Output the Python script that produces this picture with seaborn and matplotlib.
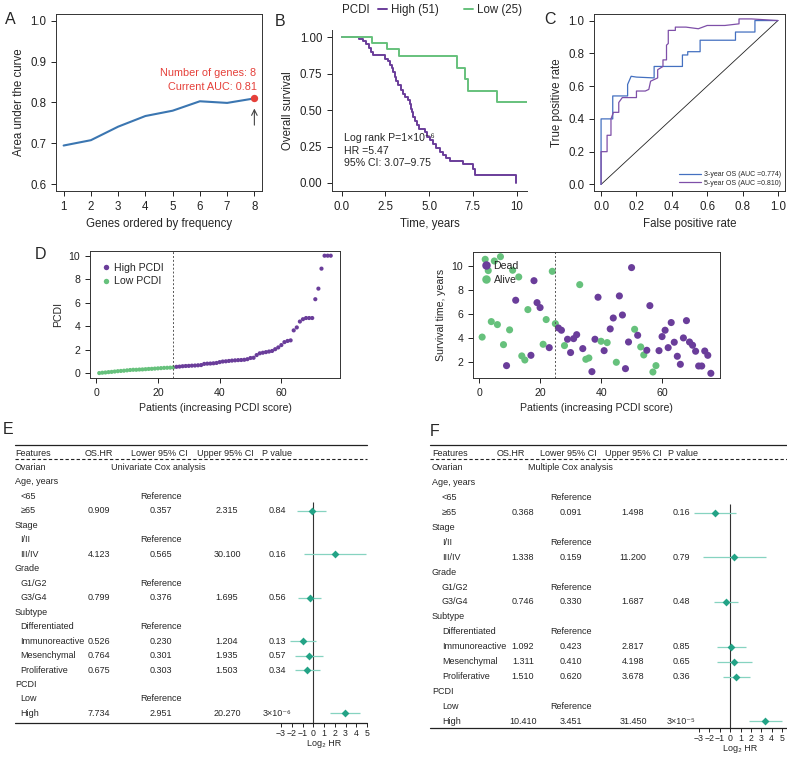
import numpy as np
import pandas as pd
import matplotlib
matplotlib.use("Agg")
import matplotlib.pyplot as plt
from matplotlib.lines import Line2D
import seaborn as sns

# ---------------- data ----------------
# A: AUC vs number of genes
genes_n = [1, 2, 3, 4, 5, 6, 7, 8]
auc_vals = [0.695, 0.708, 0.741, 0.767, 0.780, 0.803, 0.799, 0.810]

# B: Kaplan-Meier steps (time in years, survival after step)
high_t = [0, 0.99, 1.22, 1.37, 1.56, 1.70, 1.79, 2.46, 2.65, 2.78, 2.90, 2.93, 3.03,
          3.12, 3.22, 3.37, 3.50, 3.60, 3.79, 3.89, 3.94, 4.04, 4.11, 4.21, 4.30, 4.42,
          4.74, 4.88, 5.03, 5.22, 5.41, 5.60, 5.79, 5.98, 6.17, 6.93, 7.50, 7.60, 9.98]
high_s = [1.0, 0.99, 0.973, 0.952, 0.927, 0.90, 0.877, 0.854, 0.836, 0.81, 0.79, 0.76,
          0.73, 0.70, 0.67, 0.64, 0.61, 0.59, 0.57, 0.545, 0.51, 0.484, 0.454, 0.425,
          0.397, 0.37, 0.35, 0.317, 0.295, 0.265, 0.242, 0.215, 0.19, 0.17, 0.15, 0.128,
          0.096, 0.057, 0.0]
low_t = [0, 1.73, 2.59, 3.26, 6.61, 7.07, 7.22, 8.90, 10.6]
low_s = [1.0, 0.96, 0.92, 0.87, 0.79, 0.717, 0.63, 0.553, 0.553]
n_high, n_low = 51, 25

# C: ROC curves
roc3_fpr = [0, 0, 0.066, 0.066, 0.15, 0.15, 0.17, 0.20, 0.30, 0.30, 0.46, 0.46, 0.49,
            0.49, 0.56, 0.56, 0.76, 0.76, 0.87, 0.87, 1.0]
roc3_tpr = [0, 0.40, 0.40, 0.54, 0.54, 0.61, 0.66, 0.655, 0.65, 0.72, 0.72, 0.79, 0.79,
            0.81, 0.81, 0.88, 0.88, 0.93, 0.93, 1.0, 1.0]
roc5_fpr = [0, 0, 0.034, 0.034, 0.056, 0.056, 0.07, 0.10, 0.10, 0.12, 0.20, 0.20, 0.25,
            0.27, 0.28, 0.32, 0.32, 0.35, 0.35, 0.37, 0.37, 0.38, 0.38, 0.42, 0.42, 0.48,
            0.55, 0.60, 0.70, 0.78, 0.78, 0.85, 1.0]
roc5_tpr = [0, 0.20, 0.20, 0.30, 0.30, 0.40, 0.44, 0.44, 0.50, 0.53, 0.53, 0.57, 0.57,
            0.58, 0.63, 0.65, 0.70, 0.72, 0.76, 0.76, 0.85, 0.86, 0.94, 0.94, 0.96, 0.96,
            0.95, 0.97, 0.97, 0.98, 1.01, 1.01, 1.0]
auc_3y, auc_5y = 0.774, 0.810

# D: PCDI score per patient (sorted) and survival status
pcdi_low = [0.02, 0.05, 0.07, 0.10, 0.12, 0.15, 0.18, 0.20, 0.22, 0.25, 0.28, 0.30, 0.30,
            0.32, 0.33, 0.35, 0.37, 0.38, 0.40, 0.42, 0.44, 0.46, 0.47, 0.48, 0.50]
pcdi_high = [0.55, 0.57, 0.60, 0.62, 0.63, 0.65, 0.66, 0.68, 0.70, 0.80, 0.82, 0.83, 0.85,
             0.88, 0.95, 1.00, 1.02, 1.05, 1.08, 1.10, 1.12, 1.13, 1.15, 1.20, 1.30, 1.32,
             1.55, 1.70, 1.75, 1.80, 1.85, 1.90, 2.05, 2.20, 2.40, 2.65, 2.75, 2.80, 3.65,
             3.90, 4.40, 4.60, 4.70, 4.70, 4.70, 6.30, 7.20, 8.90, 10.0, 10.0, 10.0]
surv_years = [4.10, 10.58, 9.64, 5.39, 10.44, 5.14, 10.80, 3.47, 1.72, 4.70, 9.67, 7.17,
              9.11, 2.53, 2.19, 6.39, 2.58, 8.80, 6.97, 6.56, 3.50, 5.56, 3.22, 9.58, 5.22,
              4.86, 4.67, 3.39, 3.92, 2.81, 3.97, 4.30, 8.47, 3.14, 2.25, 2.36, 1.22, 3.92,
              7.42, 3.75, 2.97, 3.64, 4.78, 5.69, 2.00, 7.53, 5.94, 1.47, 3.69, 9.89, 4.75,
              4.25, 3.28, 2.61, 3.00, 6.72, 1.19, 1.72, 2.97, 4.14, 4.67, 3.22, 5.31, 3.67,
              2.50, 1.83, 4.03, 5.47, 3.69, 3.42, 2.92, 1.69, 1.69, 2.94, 2.58, 1.08]
status_code = "AAAAAAAADAADAAAADDDDAADAADDADDDDADAADDDADADDADDDDDADAADDAADDDDDDDDDDDDDDDDDD"

# E / F: Cox regression tables
feature_labels = ["Ovarian", "Age, years", "<65", "≥65", "Stage", "I/II", "III/IV", "Grade",
                  "G1/G2", "G3/G4", "Subtype", "Differentiated", "Immunoreactive",
                  "Mesenchymal", "Proliferative", "PCDI", "Low", "High"]
group_rows = ["Ovarian", "Age, years", "Stage", "Grade", "Subtype", "PCDI"]
ref_rows = ["<65", "I/II", "G1/G2", "Differentiated", "Low"]
est_rows = ["≥65", "III/IV", "G3/G4", "Immunoreactive", "Mesenchymal", "Proliferative", "High"]
uni_hr = [0.909, 4.123, 0.799, 0.526, 0.764, 0.675, 7.734]
uni_lower = [0.357, 0.565, 0.376, 0.230, 0.301, 0.303, 2.951]
uni_upper = [2.315, 30.100, 1.695, 1.204, 1.935, 1.503, 20.270]
uni_p = ["0.84", "0.16", "0.56", "0.13", "0.57", "0.34", "3×10⁻⁶"]
multi_hr = [0.368, 1.338, 0.746, 1.092, 1.311, 1.510, 10.410]
multi_lower = [0.091, 0.159, 0.330, 0.423, 0.410, 0.620, 3.451]
multi_upper = [1.498, 11.200, 1.687, 2.817, 4.198, 3.678, 31.450]
multi_p = ["0.16", "0.79", "0.48", "0.85", "0.65", "0.36", "3×10⁻⁵"]

# ---------------- style ----------------
PURPLE = "#6A3D9A"
GREEN = "#66C17C"
BLUE = "#3B76B1"
RED = "#E5403A"
ROC_BLUE = "#4470C0"
ROC_PURPLE = "#7E4FA8"
TEAL = "#23A386"
TEAL_LIGHT = "#86D3C0"

sns.set_style("ticks")
plt.rcParams["font.family"] = ["Liberation Sans", "DejaVu Sans"]
plt.rcParams.update({
    "axes.linewidth": 0.7,
    "axes.edgecolor": "#333333",
    "xtick.major.width": 0.7,
    "ytick.major.width": 0.7,
    "xtick.major.size": 3.5,
    "ytick.major.size": 3.5,
    "xtick.color": "#222222",
    "ytick.color": "#222222",
})

W, H = 787, 760
fig = plt.figure(figsize=(W / 100, H / 100), dpi=100)


def px_axes(x0, y0, x1, y1):
    return fig.add_axes([x0 / W, 1 - y1 / H, (x1 - x0) / W, (y1 - y0) / H])


FS = 8.3

# ---------------- A ----------------
ax = px_axes(56, 14, 262, 191)
sns.lineplot(x=genes_n, y=auc_vals, ax=ax, color=BLUE, lw=1.5)
sns.scatterplot(x=genes_n[-1:], y=auc_vals[-1:], ax=ax, color=RED, s=28, linewidth=0, zorder=3)
ax.text(8.08, 0.872, f"Number of genes: {genes_n[-1]}", color=RED, ha="right", va="center", fontsize=7.8)
ax.text(8.08, 0.838, f"Current AUC: {auc_vals[-1]:.2f}", color=RED, ha="right", va="center", fontsize=7.8)
ax.annotate("", xy=(8, 0.792), xytext=(8, 0.738),
            arrowprops=dict(arrowstyle="->", color="#444444", lw=0.8))
ax.set_xlim(0.72, 8.28)
ax.set_ylim(0.584, 1.016)
ax.set_xticks(genes_n)
ax.set_yticks([0.6, 0.7, 0.8, 0.9, 1.0])
ax.tick_params(labelsize=FS)
ax.set_xlabel("Genes ordered by frequency", fontsize=FS)
ax.set_ylabel("Area under the curve", fontsize=FS)

# ---------------- B ----------------
ax = px_axes(332, 30, 527, 191)
sns.lineplot(x=high_t, y=high_s, ax=ax, color=PURPLE, lw=1.4, estimator=None, sort=False,
             drawstyle="steps-post")
sns.lineplot(x=low_t, y=low_s, ax=ax, color=GREEN, lw=1.4, estimator=None, sort=False,
             drawstyle="steps-post")
ax.set_xlim(-0.55, 10.6)
ax.set_ylim(-0.055, 1.05)
ax.set_xticks([0, 2.5, 5, 7.5, 10])
ax.set_xticklabels(["0.0", "2.5", "5.0", "7.5", "10"])
ax.set_yticks([0, 0.25, 0.5, 0.75, 1.0])
ax.set_yticklabels(["0.00", "0.25", "0.50", "0.75", "1.00"])
sns.despine(ax=ax)
ax.tick_params(labelsize=FS)
ax.set_xlabel("Time, years", fontsize=FS)
ax.set_ylabel("Overall survival", fontsize=FS)
ax.text(0.15, 0.306, "Log rank P=1×10⁻⁶", fontsize=7.6, va="center")
ax.text(0.15, 0.222, "HR =5.47", fontsize=7.6, va="center")
ax.text(0.15, 0.14, "95% CI: 3.07–9.75", fontsize=7.6, va="center")
handles = [Line2D([], [], color=PURPLE, lw=1.4), Line2D([], [], color=GREEN, lw=1.4)]
ax.text(0.05, 1.124, "PCDI", transform=ax.transAxes, fontsize=FS, va="center")
ax.legend(handles, [f"High ({n_high})", f"Low ({n_low})"], ncol=2, loc="center left",
          bbox_to_anchor=(0.235, 1.124), frameon=False, fontsize=FS, handlelength=0.8,
          handletextpad=0.35, columnspacing=2.2, borderpad=0, borderaxespad=0)

# ---------------- C ----------------
ax = px_axes(594, 14, 785, 191)
ax.plot([0, 1], [0, 1], color="#222222", lw=0.6)
sns.lineplot(x=roc3_fpr, y=roc3_tpr, ax=ax, color=ROC_BLUE, lw=0.9, estimator=None, sort=False,
             label=f"3-year OS (AUC ={auc_3y:.3f})")
sns.lineplot(x=roc5_fpr, y=roc5_tpr, ax=ax, color=ROC_PURPLE, lw=0.9, estimator=None, sort=False,
             label=f"5-year OS (AUC ={auc_5y:.3f})")
ax.set_xlim(-0.04, 1.04)
ax.set_ylim(-0.04, 1.04)
ax.set_xticks(np.arange(0, 1.01, 0.2))
ax.set_yticks(np.arange(0, 1.01, 0.2))
ax.tick_params(labelsize=FS)
ax.set_xlabel("False positive rate", fontsize=FS)
ax.set_ylabel("True positive rate", fontsize=FS)
ax.legend(loc="lower right", frameon=False, fontsize=5, handlelength=3.2, handletextpad=0.4,
          borderaxespad=0.2, labelspacing=0.2)

# ---------------- D (left) ----------------
FSD = 7.6
patients = np.arange(1, len(pcdi_low) + len(pcdi_high) + 1)
df_d = pd.DataFrame({
    "patient": patients,
    "pcdi": pcdi_low + pcdi_high,
    "group": ["Low PCDI"] * len(pcdi_low) + ["High PCDI"] * len(pcdi_high),
})
ax = px_axes(90, 251, 340, 378)
sns.scatterplot(data=df_d, x="patient", y="pcdi", hue="group", hue_order=["High PCDI", "Low PCDI"],
                palette=[PURPLE, GREEN], s=9, linewidth=0, ax=ax)
ax.axvline(len(pcdi_low), color="#555555", ls=(0, (2, 2)), lw=0.7)
ax.set_xlim(-2, 79)
ax.set_ylim(-0.4, 10.4)
ax.set_xticks([0, 20, 40, 60])
ax.set_yticks([0, 2, 4, 6, 8, 10])
ax.tick_params(labelsize=FSD)
ax.set_xlabel("Patients (increasing PCDI score)", fontsize=FSD)
ax.set_ylabel("PCDI", fontsize=FSD)
ax.legend(loc="upper left", frameon=False, fontsize=FSD, handlelength=0.8, handletextpad=0.4,
          markerscale=1.3, borderaxespad=0.7, labelspacing=0.35)

# ---------------- D (right) ----------------
df_s = pd.DataFrame({
    "patient": patients,
    "years": surv_years,
    "status": ["Dead" if c == "D" else "Alive" for c in status_code],
})
ax = px_axes(473, 252, 720, 378)
sns.scatterplot(data=df_s, x="patient", y="years", hue="status", hue_order=["Dead", "Alive"],
                palette=[PURPLE, GREEN], s=26, linewidth=0, ax=ax)
ax.axvline(len(pcdi_low), color="#555555", ls=(0, (2, 2)), lw=0.7)
ax.set_xlim(-2, 79)
ax.set_ylim(0.69, 11.19)
ax.set_xticks([0, 20, 40, 60])
ax.set_yticks([2, 4, 6, 8, 10])
ax.tick_params(labelsize=FSD)
ax.set_xlabel("Patients (increasing PCDI score)", fontsize=FSD)
ax.set_ylabel("Survival time, years", fontsize=FSD)
ax.legend(loc="upper left", frameon=False, fontsize=FSD, handlelength=0.8, handletextpad=0.3,
          markerscale=1.2, borderaxespad=0.45, labelspacing=0.35)


# ---------------- E / F: Cox tables with forest plots ----------------
def cox_panel(x0, x1, row0, drow, y_bottom, cols, fx_minus3, fx_plus5, title,
              hr, lower, upper, pvals):
    fs = 6.5
    top_r = (445 - row0) / drow
    bot_r = (y_bottom - row0) / drow
    tab = px_axes(x0, 445, x1, y_bottom)
    tab.set_xlim(x0, x1)
    tab.set_ylim(bot_r, top_r)
    tab.axis("off")
    tab.plot([x0, x1], [top_r, top_r], color="#222222", lw=0.9, clip_on=False)
    tab.plot([x0, x1], [(459 - row0) / drow] * 2, color="#222222", lw=0.8, ls=(0, (3, 2)),
             clip_on=False)
    tab.plot([x0, x1], [bot_r, bot_r], color="#222222", lw=0.9, clip_on=False)

    feat_x, ind_x, hdr, val_c, title_x = cols
    for name, hx in zip(["Features", "OS.HR", "Lower 95% CI", "Upper 95% CI", "P value"],
                        [feat_x] + hdr):
        tab.text(hx, 0, name, fontsize=fs, va="center", ha="left")
    for i, lab in enumerate(feature_labels):
        r = i + 1
        xx = feat_x if lab in group_rows else ind_x
        tab.text(xx, r, lab, fontsize=fs, va="center", ha="left")
        if lab in ref_rows:
            tab.text(val_c[1], r, "Reference", fontsize=fs, va="center", ha="center")
    tab.text(title_x, 1, title, fontsize=fs, va="center", ha="left")
    est_r = [feature_labels.index(n) + 1 for n in est_rows]
    for r, a, b, c, p in zip(est_r, hr, lower, upper, pvals):
        tab.text(val_c[0], r, f"{a:.3f}", fontsize=fs, va="center", ha="center")
        tab.text(val_c[1], r, f"{b:.3f}", fontsize=fs, va="center", ha="center")
        tab.text(val_c[2], r, f"{c:.3f}", fontsize=fs, va="center", ha="center")
        tab.text(val_c[3], r, p, fontsize=fs, va="center", ha="center")

    fa = px_axes(fx_minus3, 445, fx_plus5, y_bottom)
    fa.patch.set_alpha(0)
    fa.set_xlim(-3, 5)
    fa.set_ylim(bot_r, top_r)
    for s in fa.spines.values():
        s.set_visible(False)
    fa.set_yticks([])
    fa.set_xticks(range(-3, 6))
    fa.tick_params(axis="x", labelsize=6.3, length=3, pad=1, width=0.7)
    fa.set_xlabel("Log₂ HR", fontsize=6.5, labelpad=1)
    fa.vlines(0, est_r[0] - 0.6, bot_r, color="#333333", lw=0.8)
    lhr, llo, lhi = np.log2(hr), np.log2(lower), np.log2(upper)
    fa.hlines(est_r, llo, lhi, color=TEAL_LIGHT, lw=0.9, clip_on=False)
    sns.scatterplot(x=lhr, y=est_r, ax=fa, marker="D", s=16, color=TEAL, linewidth=0,
                    clip_on=False, zorder=3)


cox_panel(15, 367, 453, 14.47, 723,
          (15, 20.5, [85, 131, 197, 262], [99, 161, 227, 277], 111),
          281, 367, "Univariate Cox analysis", uni_hr, uni_lower, uni_upper, uni_p)
cox_panel(430, 787, 453, 14.9, 728,
          (432, 442, [497, 540, 605, 668], [523, 571, 633, 681], 528),
          699, 782, "Multiple Cox analysis", multi_hr, multi_lower, multi_upper, multi_p)

# panel letters
for lab, (x, y) in {"A": (10, 20), "B": (280, 22), "C": (550, 20), "D": (40, 254),
                    "E": (8, 430), "F": (435, 432)}.items():
    fig.text(x / W, 1 - y / H, lab, fontsize=11.5, ha="center", va="center")

fig.savefig("out.png", dpi=100)
